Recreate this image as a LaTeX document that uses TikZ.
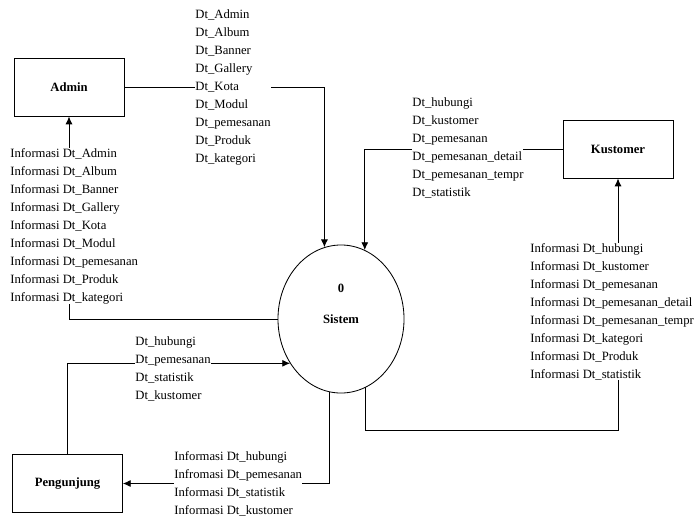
\documentclass[tikz,border=0pt]{standalone}
\usepackage{fontspec}
\setmainfont{Liberation Serif}
\usetikzlibrary{positioning}
\usetikzlibrary{shapes.geometric}
\usetikzlibrary{arrows.meta}

\begin{document}
\begin{tikzpicture}[x=0.025cm,y=-0.025cm,>={Latex[length=5.5pt,width=5pt]},line width=0.6pt,
  entitas/.style={draw, rectangle, minimum width=2.75cm, minimum height=1.43cm, font=\fontsize{9}{11}\selectfont\bfseries},
  aliran/.style={align=left, fill=white, inner sep=0pt, anchor=north west, font=\fontsize{9}{12.8}\selectfont}]
\useasboundingbox (0,0) rectangle (696,521);
\node[entitas] (admin) at (69,87.5) {Admin};
\node[entitas] (kustomer) at (618,149.5) {Kustomer};
\node[entitas] (pengunjung) at (67.5,483.5) {Pengunjung};
\node[draw, ellipse, minimum width=3.15cm, minimum height=3.7cm, inner sep=0pt, font=\fontsize{9}{11}\selectfont\bfseries] (sistem) at (341,319) {Sistem};
\node[font=\fontsize{9}{11}\selectfont\bfseries] (nol) at (341,288) {0};

\draw[->] (admin.east) -| (sistem.103);
\draw[->] (sistem.west) -| (admin.south);
\draw[->] (kustomer.west) -| (sistem.71);
\draw[->] (sistem.-70) -- ++(0,43) -| (kustomer.south);
\draw[->] (pengunjung.north) |- (sistem.221);
\draw[->] (sistem.-99) |- (pengunjung.east);

% label aliran data
\node[aliran] (dtadmin) at (195,9) {Dt\_Admin\\Dt\_Album\\Dt\_Banner\\Dt\_Gallery\\Dt\_Kota\\Dt\_Modul\\Dt\_pemesanan\\Dt\_Produk\\Dt\_kategori};
\node[aliran] (infoadmin) at (10,148) {Informasi Dt\_Admin\\Informasi Dt\_Album\\Informasi Dt\_Banner\\Informasi Dt\_Gallery\\Informasi Dt\_Kota\\Informasi Dt\_Modul\\Informasi Dt\_pemesanan\\Informasi Dt\_Produk\\Informasi Dt\_kategori};
\node[aliran] (dtkustomer) at (412,97) {Dt\_hubungi\\Dt\_kustomer\\Dt\_pemesanan\\Dt\_pemesanan\_detail\\Dt\_pemesanan\_tempr\\Dt\_statistik};
\node[aliran] (infokustomer) at (530,243) {Informasi Dt\_hubungi\\Informasi Dt\_kustomer\\Informasi Dt\_pemesanan\\Informasi Dt\_pemesanan\_detail\\Informasi Dt\_pemesanan\_tempr\\Informasi Dt\_kategori\\Informasi Dt\_Produk\\Informasi Dt\_statistik};
\node[aliran] (dtpengunjung) at (135,336) {Dt\_hubungi\\Dt\_pemesanan\\Dt\_statistik\\Dt\_kustomer};
\node[aliran] (infopengunjung) at (174,451) {Informasi Dt\_hubungi\\Infromasi Dt\_pemesanan\\Informasi Dt\_statistik\\Informasi Dt\_kustomer};
\end{tikzpicture}
\end{document}
